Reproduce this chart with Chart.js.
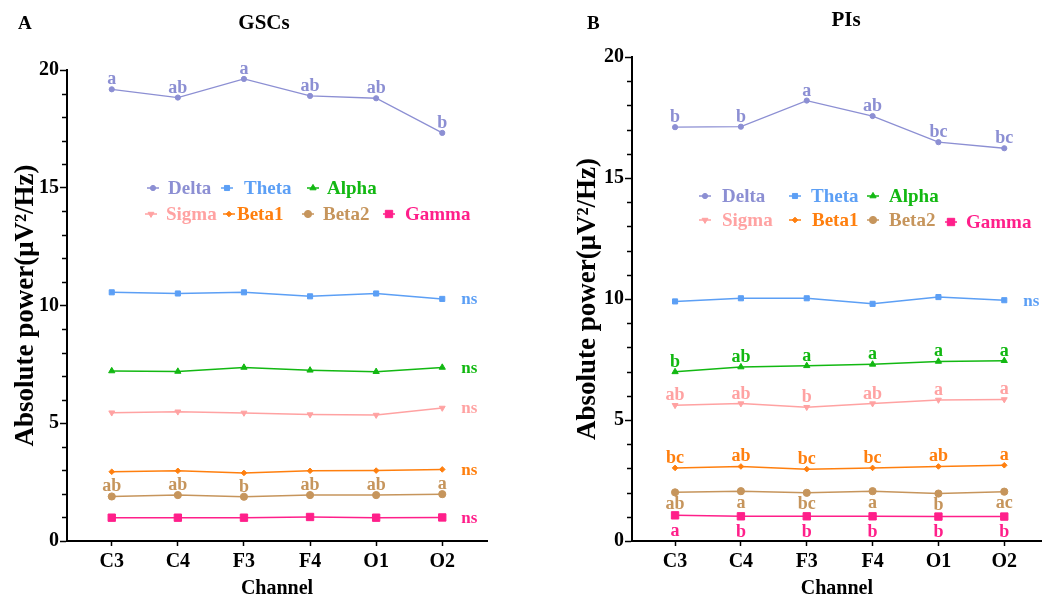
<!DOCTYPE html>
<html>
<head>
<meta charset="utf-8">
<script src="https://cdn.jsdelivr.net/npm/chart.js@4.4.1/dist/chart.umd.min.js"></script>
<style>
  html, body { margin: 0; padding: 0; background: #fff; }
  #wrap { position: relative; width: 1048px; height: 602px; overflow: hidden; }
  #chartA { position: absolute; left: 0; top: 0; }
  #chartB { position: absolute; left: 520px; top: 0; }
</style>
</head>
<body>
<div id="wrap">
  <canvas id="chartA" width="520" height="602"></canvas>
  <canvas id="chartB" width="528" height="602"></canvas>
</div>
<script>
// channels on the x axis
const channels = ['C3', 'C4', 'F3', 'F4', 'O1', 'O2'];
const bandNames = ['Delta', 'Theta', 'Alpha', 'Sigma', 'Beta1', 'Beta2', 'Gamma'];
const yTicks = [0, 5, 10, 15, 20];

// panel A - GSCs
const gscDelta = [19.18, 18.83, 19.62, 18.90, 18.80, 17.33];
const gscTheta = [10.56, 10.51, 10.56, 10.39, 10.51, 10.28];
const gscAlpha = [7.22, 7.20, 7.37, 7.25, 7.19, 7.37];
const gscSigma = [5.45, 5.49, 5.44, 5.37, 5.35, 5.65];
const gscBeta1 = [2.94, 2.98, 2.89, 2.98, 2.99, 3.04];
const gscBeta2 = [1.89, 1.95, 1.88, 1.95, 1.95, 1.99];
const gscGamma = [0.99, 0.99, 0.99, 1.02, 0.99, 1.00];

// significance letters, panel A ('ns' = one label after the last point)
const gscDeltaSig = ['a', 'ab', 'a', 'ab', 'ab', 'b'];
const gscThetaSig = 'ns';
const gscAlphaSig = 'ns';
const gscSigmaSig = 'ns';
const gscBeta1Sig = 'ns';
const gscBeta2Sig = ['ab', 'ab', 'b', 'ab', 'ab', 'a'];
const gscGammaSig = 'ns';

// panel B - PIs
const piDelta = [17.10, 17.12, 18.20, 17.56, 16.48, 16.23];
const piTheta = [9.90, 10.03, 10.03, 9.80, 10.08, 9.95];
const piAlpha = [6.99, 7.19, 7.24, 7.30, 7.42, 7.45];
const piSigma = [5.61, 5.68, 5.53, 5.68, 5.83, 5.85];
const piBeta1 = [3.02, 3.08, 2.97, 3.02, 3.08, 3.13];
const piBeta2 = [2.01, 2.06, 1.99, 2.06, 1.96, 2.04];
const piGamma = [1.06, 1.02, 1.02, 1.02, 1.01, 1.01];

const piDeltaSig = ['b', 'b', 'a', 'ab', 'bc', 'bc'];
const piThetaSig = 'ns';
const piAlphaSig = ['b', 'ab', 'a', 'a', 'a', 'a'];
const piSigmaSig = ['ab', 'ab', 'b', 'ab', 'a', 'a'];
const piBeta1Sig = ['bc', 'ab', 'bc', 'bc', 'ab', 'a'];
const piBeta2Sig = ['ab', 'a', 'bc', 'a', 'b', 'ac'];
const piGammaSig = ['a', 'b', 'b', 'b', 'b', 'b'];

// look of each band
const bandStyle = [
  { color: '#8c8fd3', pointStyle: 'circle',   radius: 2.6, rot: 0,   lw: 1.3 },
  { color: '#5c9ff5', pointStyle: 'rect',     radius: 3.6, rot: 0,   lw: 1.5 },
  { color: '#12b812', pointStyle: 'triangle', radius: 3.6, rot: 0,   lw: 1.5 },
  { color: '#ffa2a2', pointStyle: 'triangle', radius: 3.4, rot: 180, lw: 1.5 },
  { color: '#ff7f0e', pointStyle: 'rectRot',  radius: 2.8, rot: 0,   lw: 1.5 },
  { color: '#c6955c', pointStyle: 'circle',   radius: 3.6, rot: 0,   lw: 1.5 },
  { color: '#ff1f8a', pointStyle: 'rect',     radius: 5.2, rot: 0,   lw: 1.5 }
];

const SERIF = "'Liberation Serif', 'Times New Roman', serif";
Chart.defaults.font.family = SERIF;
Chart.defaults.color = '#000';

function drawMarker(ctx, st, x, y) {
  ctx.save();
  ctx.fillStyle = st.color;
  ctx.strokeStyle = st.color;
  ctx.lineWidth = 1;
  Chart.helpers.drawPoint(ctx, { pointStyle: st.pointStyle, rotation: st.rot, radius: st.radius, borderWidth: 1 }, x, y);
  ctx.restore();
}

// letters above / below points and the 'ns' tags
const sigPlugin = {
  id: 'sigLetters',
  afterDatasetsDraw(chart, args, opts) {
    const ctx = chart.ctx;
    ctx.save();
    chart.data.datasets.forEach((ds, d) => {
      const sig = opts.sig[d];
      const pts = chart.getDatasetMeta(d).data;
      ctx.fillStyle = bandStyle[d].color;
      if (sig === 'ns') {
        const last = pts[pts.length - 1];
        ctx.font = 'bold 17px ' + SERIF;
        ctx.textAlign = 'left';
        ctx.textBaseline = 'middle';
        ctx.fillText('ns', last.x + 19, last.y + 1);
        return;
      }
      if (!sig) return;
      const below = opts.below[d];
      ctx.font = 'bold 18px ' + SERIF;
      ctx.textAlign = 'center';
      pts.forEach((p, i) => {
        if (!sig[i]) return;
        if (below) {
          ctx.textBaseline = 'top';
          ctx.fillText(sig[i], p.x, p.y + below);
        } else {
          ctx.textBaseline = 'alphabetic';
          ctx.fillText(sig[i], p.x, p.y - 5);
        }
      });
    });
    ctx.restore();
  }
};

// two-row legend inside the plot, panel letter and title, minor y ticks
const decorPlugin = {
  id: 'decor',
  afterDraw(chart, args, opts) {
    const ctx = chart.ctx;
    ctx.save();
    opts.legend.forEach((it, k) => {
      const st = bandStyle[k];
      ctx.strokeStyle = st.color;
      ctx.lineWidth = 1.5;
      ctx.beginPath();
      ctx.moveTo(it[0] - 6, it[2]);
      ctx.lineTo(it[0] + 6, it[2]);
      ctx.stroke();
      drawMarker(ctx, st, it[0], it[2]);
      ctx.fillStyle = st.color;
      ctx.font = 'bold 19px ' + SERIF;
      ctx.textAlign = 'left';
      ctx.textBaseline = 'middle';
      ctx.fillText(bandNames[k], it[1], it[2] + 1);
    });

    ctx.fillStyle = '#000';
    ctx.textBaseline = 'middle';
    ctx.font = 'bold 19px ' + SERIF;
    ctx.textAlign = 'left';
    ctx.fillText(opts.letter, opts.letterX, 24);
    ctx.font = 'bold 21px ' + SERIF;
    ctx.textAlign = 'center';
    ctx.fillText(opts.title, opts.titleX, opts.titleY);

    // minor ticks, shorter than the labelled ones
    const ys = chart.scales.y;
    ctx.strokeStyle = '#000';
    ctx.lineWidth = 1.5;
    for (let v = 1; v < 20; v++) {
      if (v % 5 === 0) continue;
      const py = Math.round(ys.getPixelForValue(v)) + 0.5;
      ctx.beginPath();
      ctx.moveTo(ys.right - 5, py);
      ctx.lineTo(ys.right, py);
      ctx.stroke();
    }
    ctx.restore();
  }
};

function makePanel(id, series, sig, below, cfg) {
  const datasets = series.map((vals, k) => {
    const st = bandStyle[k];
    return {
      label: bandNames[k],
      data: vals.map((v, i) => ({ x: i, y: v })),
      borderColor: st.color,
      backgroundColor: st.color,
      borderWidth: st.lw,
      pointStyle: st.pointStyle,
      pointRotation: st.rot,
      pointRadius: st.radius,
      pointBorderWidth: 1,
      pointHoverRadius: st.radius,
      tension: 0,
      clip: false
    };
  });

  return new Chart(document.getElementById(id), {
    type: 'line',
    data: { datasets: datasets },
    options: {
      responsive: false,
      animation: false,
      events: [],
      layout: { padding: { left: cfg.padLeft, top: cfg.padTop, right: cfg.padRight, bottom: 0 } },
      plugins: {
        legend: { display: false },
        tooltip: { enabled: false },
        sigLetters: { sig: sig, below: below },
        decor: cfg.decor
      },
      scales: {
        x: {
          type: 'linear',
          min: cfg.xMin,
          max: cfg.xMax,
          afterBuildTicks: s => { s.ticks = channels.map((c, i) => ({ value: i })); },
          afterFit: s => { s.height = 61; },
          ticks: {
            callback: v => channels[v],
            font: { size: 20, weight: 'bold' },
            padding: 4,
            maxRotation: 0,
            autoSkip: false
          },
          grid: { drawOnChartArea: false, tickLength: 5, tickWidth: 1.5, tickColor: '#000' },
          border: { color: '#000', width: 2 },
          title: {
            display: true,
            text: 'Channel',
            font: { size: 20, weight: 'bold' },
            padding: { top: 0, bottom: 1 }
          }
        },
        y: {
          min: 0,
          max: 20,
          afterBuildTicks: s => { s.ticks = yTicks.map(v => ({ value: v })); },
          afterFit: s => { s.width = 67; },
          ticks: {
            font: { size: 20, weight: 'bold' },
            padding: 1
          },
          grid: { drawOnChartArea: false, tickLength: 7, tickWidth: 1.5, tickColor: '#000' },
          border: { color: '#000', width: 2 },
          title: {
            display: true,
            text: 'Absolute power(μV²/Hz)',
            font: { size: 27, weight: 'bold' },
            padding: { top: cfg.yTitlePad, bottom: 0 }
          }
        }
      }
    },
    plugins: [sigPlugin, decorPlugin]
  });
}

makePanel('chartA',
  [gscDelta, gscTheta, gscAlpha, gscSigma, gscBeta1, gscBeta2, gscGamma],
  [gscDeltaSig, gscThetaSig, gscAlphaSig, gscSigmaSig, gscBeta1Sig, gscBeta2Sig, gscGammaSig],
  [0, 0, 0, 0, 0, 0, 0],
  {
    padLeft: 0, padTop: 70, padRight: 33, xMin: -0.677, xMax: 5.677, yTitlePad: 10,
    decor: {
      letter: 'A', letterX: 18, title: 'GSCs', titleX: 264, titleY: 24,
      legend: [[153, 168, 188], [227, 244, 188], [313, 327, 188],
               [151, 166, 214], [229, 237, 214], [308, 323, 214], [389, 405, 214]]
    }
  });

makePanel('chartB',
  [piDelta, piTheta, piAlpha, piSigma, piBeta1, piBeta2, piGamma],
  [piDeltaSig, piThetaSig, piAlphaSig, piSigmaSig, piBeta1Sig, piBeta2Sig, piGammaSig],
  [0, 0, 0, 0, 0, 3, 7],
  {
    padLeft: 45, padTop: 57, padRight: 0, xMin: -0.654, xMax: 5.57, yTitlePad: 7,
    decor: {
      letter: 'B', letterX: 67, title: 'PIs', titleX: 326, titleY: 21,
      legend: [[185, 202, 196], [275, 291, 196], [353, 369, 196],
               [185, 202, 220], [275, 292, 220], [353, 369, 220], [431, 446, 222]]
    }
  });
</script>
</body>
</html>
